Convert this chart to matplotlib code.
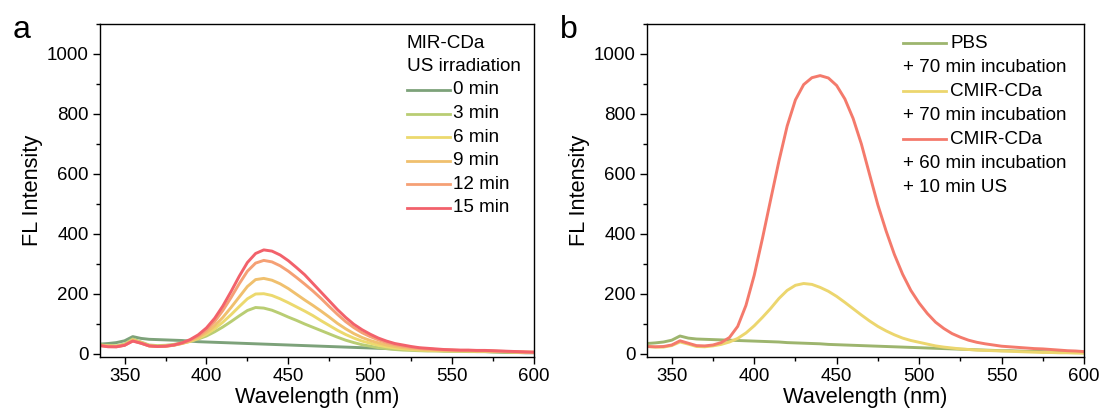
import matplotlib.pyplot as plt
import numpy as np
from matplotlib.ticker import MultipleLocator

plt.rcParams['font.family'] = ['Liberation Sans', 'DejaVu Sans']

# wavelength grid (nm), values every 5 nm
wavelength = list(range(335, 601, 5))

# panel a: MIR-CDa under US irradiation
us_0min = [33, 35, 38, 44, 58, 52, 49, 48, 47, 46, 45, 43, 41, 40, 39, 38, 37, 36,
           35, 34, 33, 32, 31, 30, 29, 28, 27, 26, 25, 24, 23, 22, 21, 20, 19, 18,
           17, 16, 15, 14, 13, 12, 11, 10, 10, 9, 8, 8, 7, 6, 5, 5, 4, 4]
us_3min = [30, 28, 27, 33, 50, 40, 30, 28, 29, 32, 37, 42, 50, 60, 74, 90, 108, 127,
           145, 155, 153, 146, 135, 123, 112, 100, 89, 78, 67, 56, 46, 38, 31, 26, 21, 18,
           15, 13, 12, 11, 10, 10, 9, 9, 9, 8, 8, 8, 7, 7, 6, 6, 5, 5]
us_6min = [30, 27, 26, 31, 47, 38, 28, 26, 27, 30, 35, 42, 52, 66, 84, 106, 131, 158,
           184, 200, 201, 195, 184, 171, 157, 143, 128, 111, 95, 79, 65, 53, 43, 36, 29, 24,
           20, 17, 15, 13, 12, 11, 11, 10, 10, 10, 9, 9, 8, 8, 7, 6, 6, 5]
us_9min = [29, 26, 25, 30, 46, 37, 27, 25, 26, 29, 35, 43, 55, 72, 94, 122, 155, 190,
           225, 248, 252, 246, 234, 218, 199, 180, 162, 143, 123, 102, 84, 68, 55, 45, 37, 30,
           25, 21, 18, 16, 14, 13, 12, 12, 11, 11, 10, 10, 9, 8, 8, 7, 6, 6]
us_12min = [28, 25, 24, 29, 44, 36, 27, 25, 26, 29, 36, 46, 60, 80, 108, 145, 188, 234,
            276, 303, 312, 307, 294, 276, 255, 233, 210, 185, 158, 132, 108, 88, 71, 58, 47, 38,
            31, 26, 22, 19, 17, 15, 14, 13, 12, 12, 11, 11, 10, 9, 8, 7, 6, 6]
us_15min = [28, 24, 24, 29, 43, 36, 27, 25, 26, 30, 37, 48, 64, 87, 119, 160, 208, 259,
            305, 335, 347, 343, 330, 311, 288, 264, 235, 206, 177, 148, 122, 99, 81, 66, 53, 43,
            35, 30, 25, 21, 19, 17, 15, 14, 13, 13, 12, 12, 11, 10, 9, 8, 7, 6]

# panel b: incubation experiments
pbs = [35, 37, 40, 46, 60, 53, 50, 49, 48, 47, 46, 45, 44, 43, 42, 41, 40, 38,
       37, 36, 35, 34, 32, 31, 30, 29, 28, 27, 26, 25, 24, 23, 22, 21, 20, 19,
       18, 17, 16, 15, 14, 13, 12, 11, 11, 10, 9, 9, 8, 7, 6, 5, 5, 4]
cmir_70min = [25, 23, 23, 28, 40, 33, 25, 24, 27, 32, 40, 52, 70, 94, 122, 152, 185, 212,
              229, 235, 232, 222, 209, 192, 172, 151, 130, 110, 92, 77, 64, 53, 45, 39, 33, 27,
              23, 20, 17, 15, 13, 12, 11, 10, 9, 8, 7, 6, 5, 5, 4, 4, 3, 3]
cmir_us = [25, 24, 25, 30, 44, 36, 28, 27, 30, 38, 55, 92, 162, 262, 385, 515, 643, 760,
           847, 898, 921, 928, 920, 895, 850, 785, 700, 598, 497, 410, 332, 266, 212, 170, 135, 106,
           85, 68, 56, 46, 39, 34, 30, 26, 24, 22, 20, 18, 17, 15, 13, 11, 10, 8]

a_series = [us_0min, us_3min, us_6min, us_9min, us_12min, us_15min]
a_labels = ['0 min', '3 min', '6 min', '9 min', '12 min', '15 min']
a_colors = ['#7da27a', '#b9cd73', '#ecd96e', '#f0c06e', '#f5a075', '#f2616b']

b_series = [pbs, cmir_70min, cmir_us]
b_colors = ['#9db56e', '#ecd66e', '#f47a6c']
# legend rows: (colour or None, text)
b_rows = [(b_colors[0], 'PBS'), (None, '+ 70 min incubation'),
          (b_colors[1], 'CMIR-CDa'), (None, '+ 70 min incubation'),
          (b_colors[2], 'CMIR-CDa'), (None, '+ 60 min incubation'),
          (None, '+ 10 min US')]
a_rows = [(None, 'MIR-CDa'), (None, 'US irradiation')] + list(zip(a_colors, a_labels))

W, H = 1101, 417
fig = plt.figure(figsize=(W / 100, H / 100), dpi=100)
ax1 = fig.add_axes([100 / W, 1 - 357 / H, 434 / W, 333 / H])
ax2 = fig.add_axes([647 / W, 1 - 357 / H, 437 / W, 333 / H])


def style_axes(ax):
    ax.set_xlim(335, 600)
    ax.set_ylim(-10, 1100)
    ax.xaxis.set_major_locator(MultipleLocator(50))
    ax.xaxis.set_minor_locator(MultipleLocator(25))
    ax.yaxis.set_major_locator(MultipleLocator(200))
    ax.yaxis.set_minor_locator(MultipleLocator(100))
    ax.tick_params(which='major', length=5, width=1, labelsize=13.5, pad=3)
    ax.tick_params(which='minor', length=3, width=1)
    for s in ax.spines.values():
        s.set_linewidth(1.0)
    ax.set_xlabel('Wavelength (nm)', fontsize=15.7, labelpad=1)
    ax.set_ylabel('FL Intensity', fontsize=15.7, labelpad=3)


def draw_legend(ax, rows, x0, y0, dy, line_len, gap):
    # rows drawn top-down in pixel offsets from (x0, y0) in axes fraction
    bb = ax.get_position()
    axw = bb.width * W
    axh = bb.height * H
    for i, (col, txt) in enumerate(rows):
        y = y0 - i * dy / axh
        if col is None:
            ax.text(x0, y, txt, transform=ax.transAxes, fontsize=13.6,
                    va='center', ha='left')
        else:
            ax.plot([x0, x0 + line_len / axw], [y, y], color=col, lw=2,
                    transform=ax.transAxes)
            ax.text(x0 + (line_len + gap) / axw, y, txt, transform=ax.transAxes,
                    fontsize=13.6, va='center', ha='left')


for vals, lab, col in zip(a_series, a_labels, a_colors):
    ax1.plot(wavelength, vals, color=col, lw=2.1, label=lab)
style_axes(ax1)
draw_legend(ax1, a_rows, (407 - 100) / 434, (357 - 43) / 333, 23.5, 43, 3)

for vals, col in zip(b_series, b_colors):
    ax2.plot(wavelength, vals, color=col, lw=2.1)
style_axes(ax2)
draw_legend(ax2, b_rows, (903 - 647) / 437, (357 - 43) / 333, 24, 43, 4)

fig.text(22 / W, 1 - 30 / H, 'a', fontsize=23, ha='center', va='center')
fig.text(569 / W, 1 - 30 / H, 'b', fontsize=23, ha='center', va='center')

fig.savefig('out.png', dpi=100)
